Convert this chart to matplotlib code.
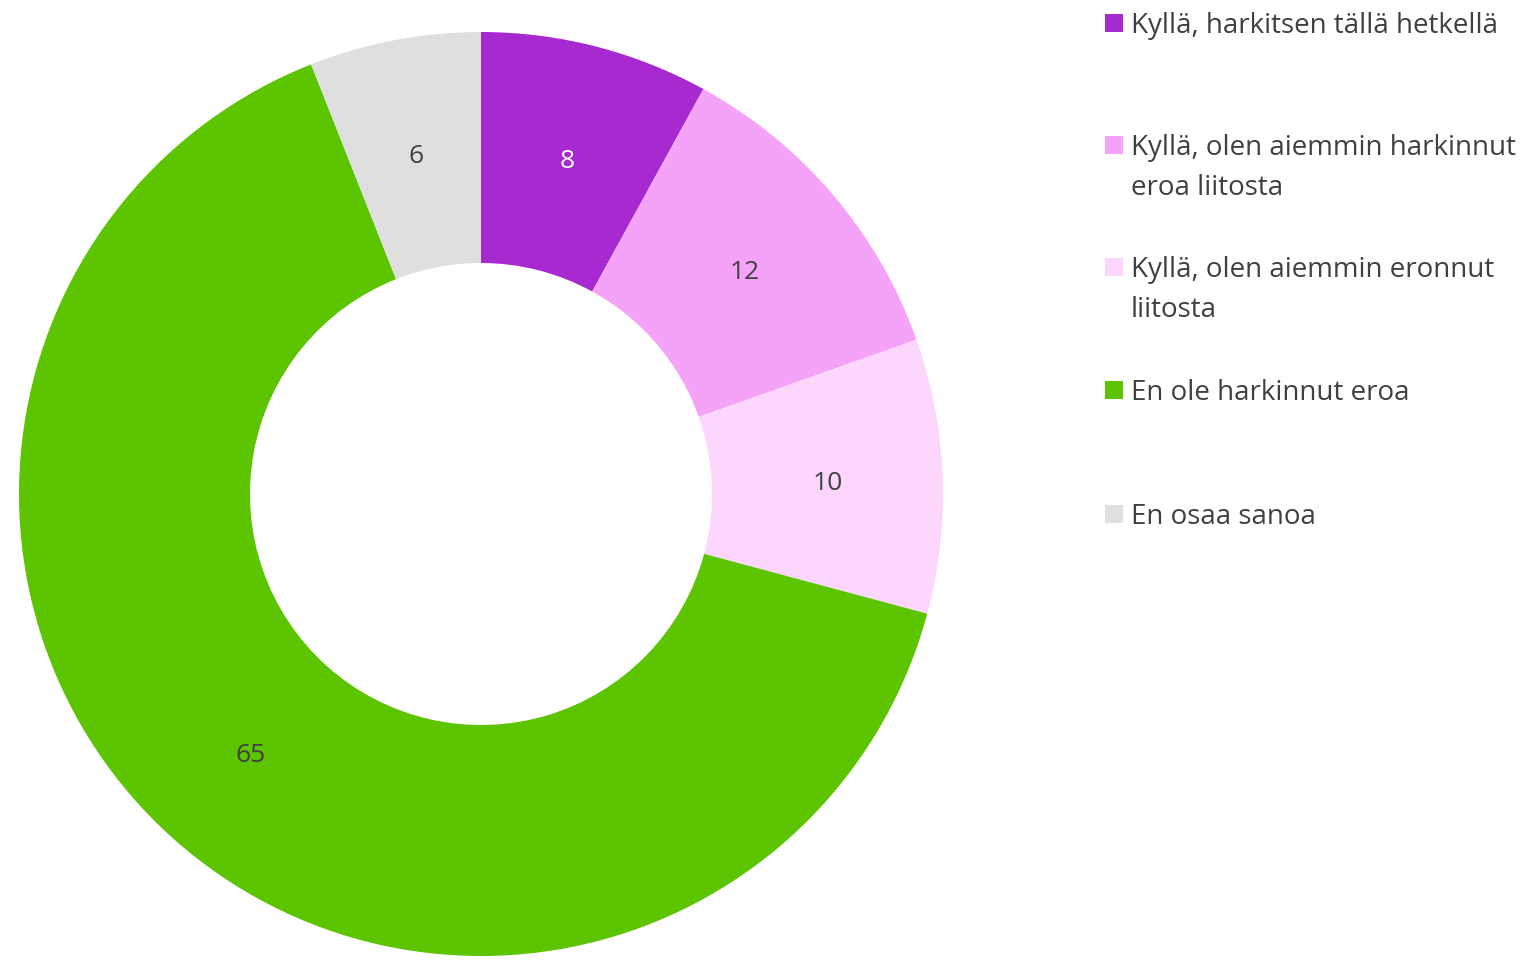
import matplotlib.pyplot as plt
from matplotlib.patches import Rectangle

labels = ["Kyllä, harkitsen tällä hetkellä",
          "Kyllä, olen aiemmin harkinnut\neroa liitosta",
          "Kyllä, olen aiemmin eronnut\nliitosta",
          "En ole harkinnut eroa",
          "En osaa sanoa"]
values = [8.0, 11.6, 9.6, 64.9, 6.0]
colors = ['#A62ACF', '#F4A3F9', '#FDD6FD', '#5CC400', '#DFDFDF']
label_colors = ['white', '#404040', '#404040', '#404040', '#404040']

plt.rcParams['font.family'] = ['Open Sans', 'DejaVu Sans']
W, H = 1537, 966
fig = plt.figure(figsize=(W / 100, H / 100), dpi=100)

# donut: center (481, 494) px, radius 462 px
cx, cy, r = 481, 494, 462
ax = fig.add_axes([(cx - r) / W, (H - cy - r) / H, 2 * r / W, 2 * r / H])
wedges, texts, autotexts = ax.pie(values, colors=colors, startangle=90, counterclock=False,
                                  radius=1, wedgeprops=dict(width=0.5, linewidth=0),
                                  autopct='%.0f', pctdistance=0.75,
                                  textprops=dict(fontsize=19))
for t, v, c in zip(autotexts, values, label_colors):
    t.set_text('%.0f' % v)
    t.set_color(c)
    t.set_va('center_baseline')
ax.set_xlim(-1, 1)
ax.set_ylim(-1, 1)
ax.set_aspect('equal')
ax.axis('off')

# legend drawn by hand
baselines = [33, 155, 277, 400, 524]
line_gap = 40
for lab, col, y in zip(labels, colors, baselines):
    fig.patches.append(Rectangle((1105 / W, 1 - (y - 1) / H), 18 / W, 18 / H,
                                 transform=fig.transFigure, facecolor=col, edgecolor='none'))
    for k, line in enumerate(lab.split('\n')):
        fig.text(1131 / W, 1 - (y + k * line_gap) / H, line, fontsize=20,
                 color='#404040', va='baseline', ha='left')

fig.savefig('out.png', dpi=100)
